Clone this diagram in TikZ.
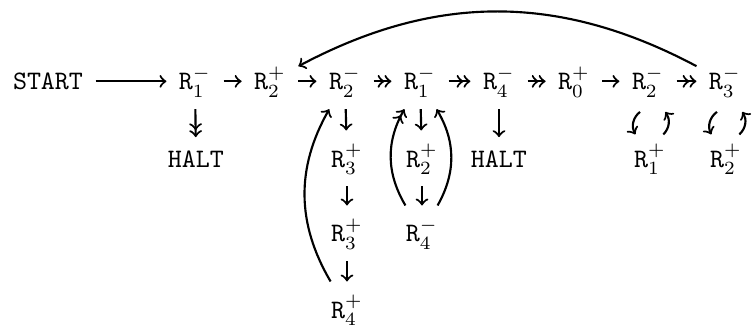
\documentclass[tikz,border=0pt]{standalone}
\usepackage{tikz}

\begin{document}
\begin{tikzpicture}[
  x=0.375pt, y=-0.375pt,
  reg/.style={anchor=base, inner sep=4.5pt, text height=9pt, text depth=2.5pt},
  word/.style={anchor=base, inner sep=4.5pt, text height=6.5pt, text depth=0pt, font=\ttfamily},
  arrow/.style={->, thick},
  zero/.style={->>, thick}
]
\useasboundingbox (0,0) rectangle (752,328);

\node[word] (start) at (48,90) {START};
\node[reg] (r1a) at (195,90) {$\mathtt{R}_1^-$};
\node[reg] (r2p) at (270,90) {$\mathtt{R}_2^+$};
\node[reg] (r2a) at (345,90) {$\mathtt{R}_2^-$};
\node[reg] (r1b) at (420,90) {$\mathtt{R}_1^-$};
\node[reg] (r4a) at (499,90) {$\mathtt{R}_4^-$};
\node[reg] (r0p) at (574,90) {$\mathtt{R}_0^+$};
\node[reg] (r2c) at (648,90) {$\mathtt{R}_2^-$};
\node[reg] (r3a) at (725,90) {$\mathtt{R}_3^-$};

\node[word] (halta) at (196,167) {HALT};
\node[reg] (r3p) at (347,167) {$\mathtt{R}_3^+$};
\node[reg] (r2pb) at (422,167) {$\mathtt{R}_2^+$};
\node[word] (haltb) at (499,167) {HALT};
\node[reg] (r1p) at (650,167) {$\mathtt{R}_1^+$};
\node[reg] (r2pc) at (726,167) {$\mathtt{R}_2^+$};

\node[reg] (r3pb) at (347,242) {$\mathtt{R}_3^+$};
\node[reg] (r4b) at (422,242) {$\mathtt{R}_4^-$};
\node[reg] (r4p) at (347,318) {$\mathtt{R}_4^+$};

\draw[arrow] (start) -- (r1a);
\draw[arrow] (r1a) -- (r2p);
\draw[arrow] (r2p) -- (r2a);
\draw[zero] (r2a) -- (r1b);
\draw[zero] (r1b) -- (r4a);
\draw[zero] (r4a) -- (r0p);
\draw[arrow] (r0p) -- (r2c);
\draw[zero] (r2c) -- (r3a);
\draw[arrow] (r3a) to[bend right=28] (r2p);

\draw[zero] (r1a) -- (halta);
\draw[arrow] (r2a) -- (r3p);
\draw[arrow] (r3p) -- (r3pb);
\draw[arrow] (r3pb) -- (r4p);
\draw[arrow] (r4p) to[bend left=30] (r2a);
\draw[arrow] (r1b) -- (r2pb);
\draw[arrow] (r2pb) -- (r4b);
\draw[zero] (r4b) to[bend left=30] (r1b);
\draw[arrow] (r4b) to[bend right=30] (r1b);
\draw[arrow] (r4a) -- (haltb);

\draw[arrow] ([shift={(-3pt,-1pt)}]r2c.south) to[bend right=40] ([shift={(-5.5pt,-1.5pt)}]r1p.north);
\draw[arrow] ([shift={(5pt,-1.5pt)}]r1p.north) to[bend right=40] ([shift={(6.5pt,-1pt)}]r2c.south);
\draw[arrow] ([shift={(-3pt,-1pt)}]r3a.south) to[bend right=40] ([shift={(-5.5pt,-1.5pt)}]r2pc.north);
\draw[arrow] ([shift={(5pt,-1.5pt)}]r2pc.north) to[bend right=40] ([shift={(6.5pt,-1pt)}]r3a.south);
\end{tikzpicture}
\end{document}
